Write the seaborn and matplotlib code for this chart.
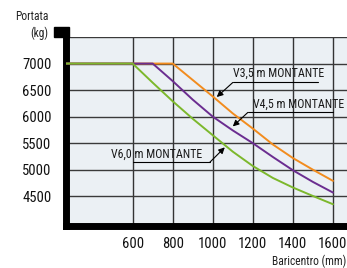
import seaborn as sns
import matplotlib.pyplot as plt
import matplotlib.patches as mpatches
import pandas

# curve di portata per montante (kg vs mm)
baricentro_v35 = [265, 800, 900, 1000, 1100, 1200, 1300, 1400, 1500, 1600]
portata_v35 = [7000, 7000, 6690, 6380, 6060, 5775, 5475, 5220, 5000, 4790]
baricentro_v45 = [265, 700, 800, 900, 1000, 1100, 1200, 1300, 1400, 1500, 1600]
portata_v45 = [7000, 7000, 6670, 6320, 6000, 5740, 5500, 5240, 4990, 4770, 4570]
baricentro_v60 = [265, 600, 700, 800, 900, 1000, 1100, 1200, 1300, 1400, 1500, 1600]
portata_v60 = [7000, 7000, 6640, 6290, 5960, 5650, 5340, 5070, 4845, 4665, 4505, 4350]

serie = ["V3,5 m MONTANTE", "V4,5 m MONTANTE", "V6,0 m MONTANTE"]
colori = ["#f28c1e", "#6b2d90", "#7cb82c"]
x_ticks = [600, 800, 1000, 1200, 1400, 1600]
y_ticks = [4500, 5000, 5500, 6000, 6500, 7000]

rows = []
for nome, xs, ys in zip(serie, [baricentro_v35, baricentro_v45, baricentro_v60],
                        [portata_v35, portata_v45, portata_v60]):
    for x, y in zip(xs, ys):
        rows.append({'baricentro': x, 'portata': y, 'serie': nome})
df = pandas.DataFrame(rows)

sns.set_style("white")
plt.rcParams['font.family'] = ['Roboto Condensed', 'DejaVu Sans']

fig = plt.figure(figsize=(3.47, 2.68), dpi=100)
ax = fig.add_axes([65.5/347, 1 - 226/268, 1 - 65.5/347, (226 - 37)/268])
ax.set_facecolor('#ebf0f4')

# griglia
for xv in x_ticks:
    ax.axvline(xv, color='#333333', lw=1.0, zorder=1)
for yv in y_ticks + [7500]:
    ax.axhline(yv, color='#3a3a3a', lw=1.0, zorder=1)

sns.lineplot(data=df, x='baricentro', y='portata', hue='serie', palette=colori,
             estimator=None, legend=False, lw=1.4, ax=ax, zorder=3)

ax.set_xlim(265, 1670)
ax.set_ylim(3940, 7500)
ax.set_xticks(x_ticks)
ax.set_yticks(y_ticks)
ax.set_xticklabels([str(v) for v in x_ticks], fontsize=10.5, color='#111111')
ax.set_yticklabels([str(v) for v in y_ticks], fontsize=10.5, color='#111111')
ax.tick_params(length=0, pad=8)
ax.tick_params(axis='y', pad=10)
ax.set_xlabel('')
ax.set_ylabel('')

for s in ['top', 'right']:
    ax.spines[s].set_visible(False)
for s in ['left', 'bottom']:
    ax.spines[s].set_linewidth(5)
    ax.spines[s].set_color('black')
    ax.spines[s].set_capstyle('projecting')

# tacca in cima all'asse
fig.patches.append(mpatches.Rectangle((54/347, 1 - 37/268), 15/347, 10/268,
                                      transform=fig.transFigure, color='black'))

fig.text(48/347, 1 - 17/268, 'Portata', ha='right', va='center', fontsize=8.3, color='#222222')
fig.text(48/347, 1 - 33/268, '(kg)', ha='right', va='center', fontsize=8.3, color='#222222')
fig.text(346/347, 1 - 261/268, 'Baricentro (mm)', ha='right', va='center', fontsize=8.3, color='#222222')

# etichette con freccia
etichette = [
    # testo, pos testo, sottolineatura, punta
    (serie[0], (1100, 6812), (1100, 1525, 6643), (1020, 6370)),
    (serie[1], (1200, 6229), (1175, 1600, 6079), (1100, 5816)),
    (serie[2], (490, 5289), (600, 985, 5139), (1060, 5421)),
]
for testo, (tx, ty), (u0, u1, uy), punta in etichette:
    ax.text(tx, ty, testo, ha='left', va='center', fontsize=8.6, color='#1a1a1a', zorder=5)
    ax.plot([u0, u1], [uy, uy], color='black', lw=0.8, zorder=5)
    start = (u0, uy) if punta[0] < u0 else (u1, uy)
    ax.annotate('', xy=punta, xytext=start,
                arrowprops=dict(arrowstyle='-|>', color='black', lw=0.8,
                                mutation_scale=9, shrinkA=0, shrinkB=0), zorder=5)

fig.savefig('out.png', dpi=100)
